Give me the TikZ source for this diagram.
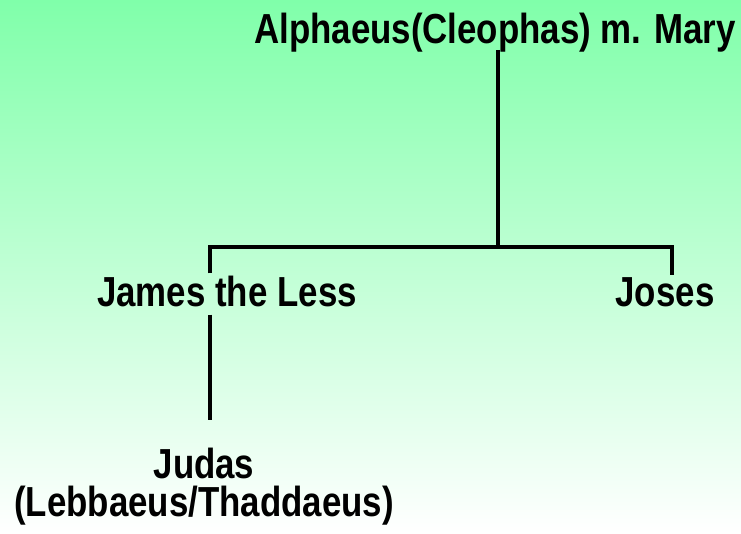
\documentclass[tikz,border=0pt]{standalone}
\usepackage{fontspec}
\setmainfont[FakeStretch=0.83]{Liberation Sans}
\usepackage{tikz}
\usetikzlibrary{calc}

\definecolor{topgreen}{RGB}{128,255,170}

\tikzset{
    person/.style={font=\fontsize{42}{38}\selectfont\bfseries, inner sep=2pt, align=center},
    branch/.style={line width=3.5pt, line join=miter}
}

\begin{document}
\begin{tikzpicture}[x=1pt, y=-1pt]
    % background
    \shade[top color=topgreen, bottom color=white] (0,0) rectangle (741,533);
    \useasboundingbox (0,0) rectangle (741,533);

    \coordinate (bar) at (498, 247);
    \coordinate (barL) at (210, 247);
    \coordinate (barR) at (672, 247);

    % names
    \node[person, anchor=base] (alph) at (495, 43) {Alphaeus(Cleophas) m. Mary};
    \node[person, anchor=base] (james) at (227, 306) {James the Less};
    \node[person, anchor=base] (joses) at (665, 306) {Joses};
    \node[person, anchor=north, inner sep=0pt] (judas) at (204, 448) {Judas\\(Lebbaeus/Thaddaeus)};

    % lines
    \draw[branch] ([yshift=4pt]alph.south -| bar) -- (bar);
    \draw[branch] (james.north -| barL) -- (barL) -- (barR) -- (joses.north -| barR);
    \draw[branch] ([yshift=-6pt]james.south -| barL) -- ([yshift=28pt]judas.north -| barL);
\end{tikzpicture}
\end{document}
